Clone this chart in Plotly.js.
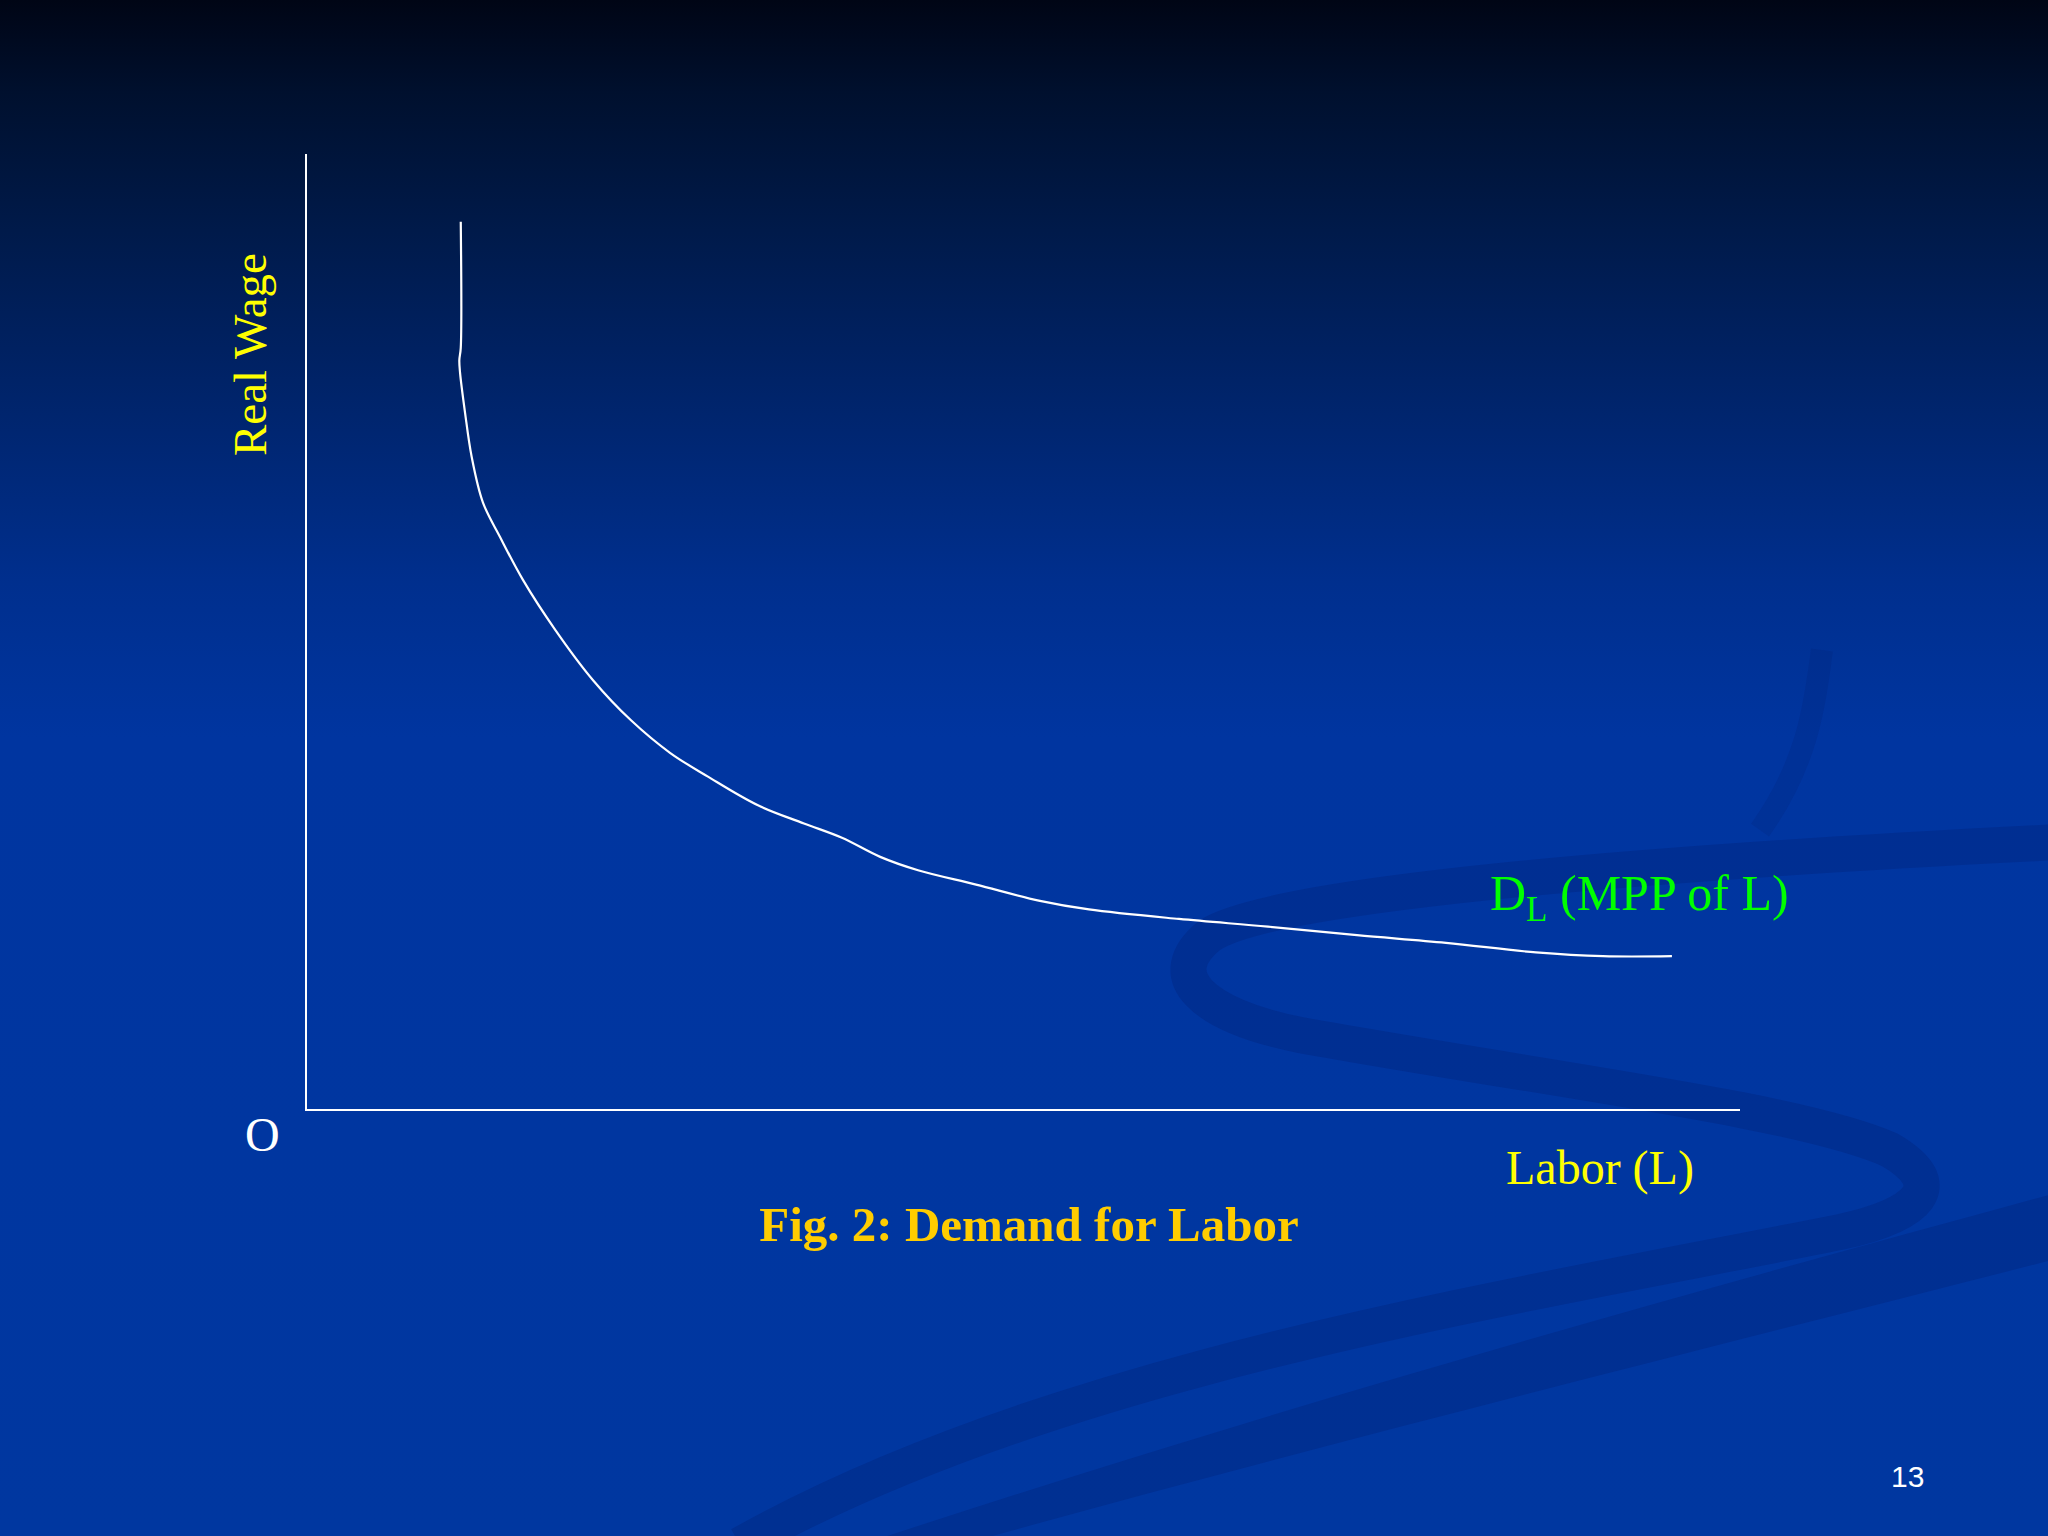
<!DOCTYPE html>
<html>
<head>
<meta charset="utf-8">
<script src="https://cdn.plot.ly/plotly-3.0.1.min.js"></script>
<style>
  html, body { margin: 0; padding: 0; }
  #chart {
    width: 2048px; height: 1536px;
    background: linear-gradient(to bottom, #000515 0%, #00102e 6%, #001a4a 15%, #00256e 27%, #002f8e 38%, #0035a0 48%, #0037a0 100%);
  }
</style>
</head>
<body>
<div id="chart"></div>
<script>
// Demand for labor curve (L on x, real wage on y) (0-100 units)
const labor = [10.73, 10.73, 10.63, 10.68, 11.03, 11.49, 12.28, 13.47, 15.07, 17.31, 19.96, 22.61,
               25.33, 27.98, 31.47, 34.68, 37.33, 40.0, 42.64, 46.69, 51.15, 54.57, 60.85, 67.06,
               73.27, 79.48, 85.76, 90.44, 95.25];
const wage  = [92.9, 79.7, 78.4, 77.1, 72.9, 68.3, 63.5, 59.9, 55.4, 50.2, 44.9, 40.7,
               37.3, 34.8, 31.8, 29.9, 28.4, 26.4, 25.0, 23.5, 21.8, 20.9, 19.9, 19.1,
               18.2, 17.4, 16.4, 16.0, 16.0];

const xRange = [0, 100];
const yRange = [0, 100];

// page geometry
const W = 2048, H = 1536;
const M = { l: 307, r: 308, t: 154, b: 427 };
const PW = W - M.l - M.r, PH = H - M.t - M.b;
const px = x => (x - M.l) / PW;
const py = y => (H - M.b - y) / PH;

// decorative background swoosh (page pixels -> paper coords)
function path(cmds) {
  return cmds.map(c => {
    const [op, ...pts] = c;
    const s = [];
    for (let i = 0; i < pts.length; i += 2) s.push(px(pts[i]).toFixed(4) + ',' + py(pts[i + 1]).toFixed(4));
    return op + s.join(' ');
  }).join(' ');
}
const swooshColor = 'rgba(0,20,90,0.20)';
const shapes = [
  { type: 'path', xref: 'paper', yref: 'paper', layer: 'below',
    path: path([['M', 2060, 842], ['C', 1700, 860, 1280, 890, 1210, 935], ['C', 1160, 975, 1200, 1015, 1300, 1035],
                ['C', 1550, 1080, 1800, 1110, 1890, 1150], ['C', 1950, 1185, 1920, 1215, 1840, 1232],
                ['C', 1500, 1300, 1050, 1370, 740, 1545]]),
    line: { color: swooshColor, width: 36 }, fillcolor: 'rgba(0,0,0,0)' },
  { type: 'path', xref: 'paper', yref: 'paper', layer: 'below',
    path: path([['M', 860, 1545], ['C', 1300, 1400, 1700, 1290, 2060, 1192], ['L', 2060, 1258],
                ['C', 1700, 1350, 1300, 1450, 960, 1545], ['Z']]),
    line: { width: 0 }, fillcolor: swooshColor },
  { type: 'path', xref: 'paper', yref: 'paper', layer: 'below',
    path: path([['M', 1822, 650], ['C', 1815, 700, 1810, 760, 1760, 830]]),
    line: { color: 'rgba(0,20,90,0.13)', width: 22 }, fillcolor: 'rgba(0,0,0,0)' }
];

const serif = 'Liberation Serif, Times New Roman, serif';

const annotations = [
  { text: 'Real Wage', xref: 'paper', yref: 'paper', x: px(250), y: py(355), xanchor: 'center', yanchor: 'middle',
    textangle: -90, showarrow: false, font: { family: serif, size: 47, color: '#ffff00' } },
  { text: 'O', xref: 'paper', yref: 'paper', x: px(262), y: py(1134), xanchor: 'center', yanchor: 'middle',
    showarrow: false, font: { family: serif, size: 48, color: '#ffffff' } },
  { text: 'Labor (L)', xref: 'paper', yref: 'paper', x: px(1600), y: py(1168), xanchor: 'center', yanchor: 'middle',
    showarrow: false, font: { family: serif, size: 48, color: '#ffff00' } },
  { text: 'D<sub>L</sub> (MPP of L)', xref: 'paper', yref: 'paper', x: px(1639), y: py(897), xanchor: 'center', yanchor: 'middle',
    showarrow: false, font: { family: serif, size: 50, color: '#00ff00' } },
  { text: '13', xref: 'paper', yref: 'paper', x: px(1907), y: py(1476), xanchor: 'center', yanchor: 'middle',
    showarrow: false, font: { family: 'Liberation Sans, Arial, sans-serif', size: 30, color: '#ffffff' } }
];

const trace = {
  x: labor, y: wage, type: 'scatter', mode: 'lines',
  line: { color: '#ffffff', width: 2.2, shape: 'spline', smoothing: 1.0 },
  hoverinfo: 'skip', showlegend: false
};

const axisCommon = {
  showgrid: false, zeroline: false, showticklabels: false, ticks: '',
  showline: true, linecolor: '#ffffff', linewidth: 2, fixedrange: true
};

const layout = {
  width: W, height: H,
  margin: M,
  paper_bgcolor: 'rgba(0,0,0,0)',
  plot_bgcolor: 'rgba(0,0,0,0)',
  showlegend: false,
  title: { text: '<b>Fig. 2: Demand for Labor</b>', x: 1029 / W, xanchor: 'center', y: 1 - 1224 / H, yanchor: 'middle',
           font: { family: serif, size: 49, color: '#ffcc00' } },
  xaxis: Object.assign({ range: xRange }, axisCommon),
  yaxis: Object.assign({ range: yRange }, axisCommon),
  shapes: shapes,
  annotations: annotations
};

Plotly.newPlot('chart', [trace], layout, { displayModeBar: false, staticPlot: true });
</script>
</body>
</html>
